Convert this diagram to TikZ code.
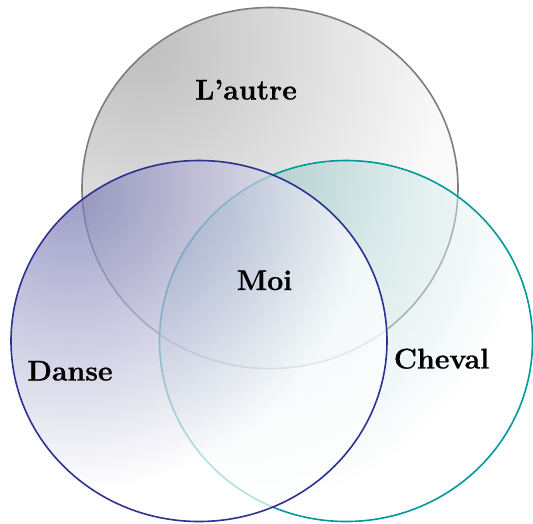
\documentclass[tikz,border=0pt]{standalone}
\usepackage{fontspec}
\newfontface\lblfont{lmroman12-bold.otf}[FakeBold=0.8]
\definecolor{grayA}{RGB}{190,190,190}
\definecolor{grayB}{RGB}{250,250,250}
\definecolor{tealA}{RGB}{112,182,182}
\definecolor{purpA}{RGB}{119,119,179}
\definecolor{topline}{RGB}{125,125,125}
\definecolor{leftline}{RGB}{46,49,146}
\definecolor{rightline}{RGB}{0,153,153}
\pgfdeclareradialshading{toprad}{\pgfpointorigin}{color(0bp)=(grayA); color(20.4bp)=(grayB); color(50bp)=(grayB)}
\pgfdeclareradialshading{rightrad}{\pgfpointorigin}{color(0bp)=(tealA); color(20.5bp)=(white); color(50bp)=(white)}
\pgfdeclareradialshading{leftrad}{\pgfpointorigin}{color(0bp)=(purpA); color(19.2bp)=(white); color(50bp)=(white)}
\tikzset{
  venn/.style={line width=1.6pt},
  lbl/.style={font=\lblfont\fontsize{28.5}{28.5}\selectfont, text=black, anchor=base, inner sep=0pt}
}
\begin{document}
\begin{tikzpicture}[x=1pt,y=-1pt]
\useasboundingbox (0,0) rectangle (533,523);
\clip (0,0) rectangle (533,523);
% top circle
\begin{scope}
  \clip (270,188) ellipse [x radius=188pt, y radius=180.5pt];
  \shade[shading=toprad] (141,47) circle [radius=380pt];
\end{scope}
\draw[venn, draw=topline] (270,188) ellipse [x radius=188pt, y radius=180.5pt];
% right circle
\begin{scope}
  \clip (346,341) ellipse [x radius=186.5pt, y radius=180.5pt];
  \shade[shading=rightrad, fill opacity=0.5] (217,200) circle [radius=380pt];
\end{scope}
\draw[venn, draw=rightline] (346,341) ellipse [x radius=186.5pt, y radius=180.5pt];
% left circle
\begin{scope}
  \clip (199,341) ellipse [x radius=188pt, y radius=180.5pt];
  \shade[shading=leftrad, fill opacity=0.7] (70,200) circle [radius=380pt];
\end{scope}
\draw[venn, draw=leftline] (199,341) ellipse [x radius=188pt, y radius=180.5pt];
\node[lbl] (lautre) at (246,99.5) {L’autre};
\node[lbl] (moi) at (264.5,290) {Moi};
\node[lbl] (danse) at (70,380.5) {Danse};
\node[lbl] (cheval) at (441.5,368.5) {Cheval};
\end{tikzpicture}
\end{document}
